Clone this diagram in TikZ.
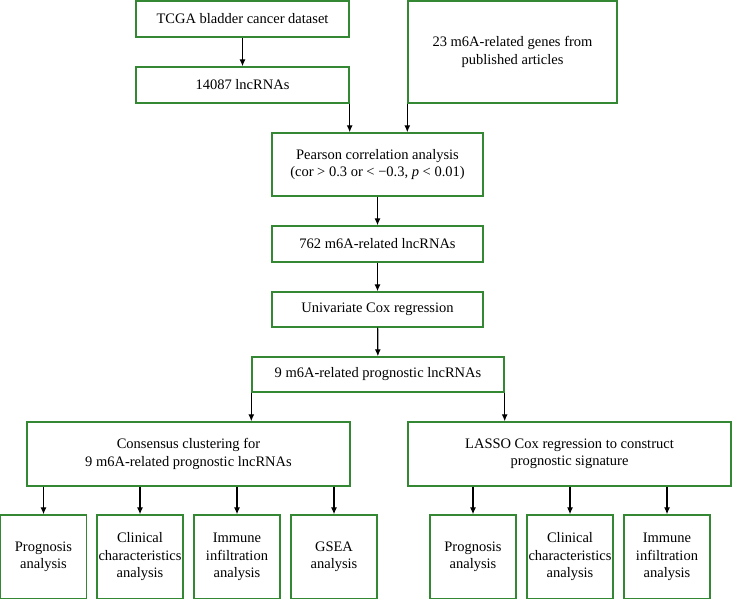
\documentclass[tikz,border=0pt]{standalone}
\usepackage{fontspec}
\setmainfont{Liberation Serif}
\definecolor{boxgreen}{RGB}{52,136,52}
\usetikzlibrary{arrows.meta,positioning}

\begin{document}
\begin{tikzpicture}[x=1pt,y=-1pt,
    every node/.style={draw=boxgreen,line width=1.4pt,fill=white,align=center,inner sep=0pt,
      font=\fontsize{14.5}{17.5}\selectfont},
    topbox/.style={minimum width=213pt,minimum height=36pt},
    midbox/.style={minimum width=211pt,minimum height=36pt},
    widebox/.style={minimum width=323pt,minimum height=64pt},
    endbox/.style={minimum width=86pt,minimum height=84pt},
    arr/.style={-{Latex[length=7pt,width=6pt]},line width=1.2pt}
    ]
    \useasboundingbox (0,0) rectangle (732,598);

    \node (tcga) [topbox] at (242.5,19) {TCGA bladder cancer dataset};
    \node (lnc) [topbox] at (242.5,85) {14087 lncRNAs};
    \node (genes) [minimum width=209pt,minimum height=102pt] at (512.5,52) {23 m6A-related genes from\\published articles};
    \node (pearson) [midbox,minimum height=63pt] at (377.5,164.5) {Pearson correlation analysis\\(cor > 0.3 or < −0.3, \textit{p} < 0.01)};
    \node (related) [midbox] at (377.5,244) {762 m6A-related lncRNAs};
    \node (unicox) [midbox,minimum height=35pt] at (377.5,309.5) {Univariate Cox regression};
    \node (prog) [minimum width=252pt,minimum height=35pt] at (378,374.5) {9 m6A-related prognostic lncRNAs};
    \node (cons) [widebox] at (188.5,454) {Consensus clustering for\\9 m6A-related prognostic lncRNAs};
    \node (lasso) [widebox] at (569.5,454) {LASSO Cox regression to construct\\prognostic signature};

    % bottom row
    \node (c1) [endbox] at (43.5,557) {Prognosis\\analysis};
    \node (c2) [endbox] at (140,557) {Clinical\\characteristics\\analysis};
    \node (c3) [endbox] at (237,557) {Immune\\infiltration\\analysis};
    \node (c4) [endbox] at (334,557) {GSEA\\analysis};
    \node (l1) [endbox] at (473,557) {Prognosis\\analysis};
    \node (l2) [endbox] at (570,557) {Clinical\\characteristics\\analysis};
    \node (l3) [endbox] at (667,557) {Immune\\infiltration\\analysis};

    % the arrows
    \draw[arr] (tcga) -- (lnc);
    \draw[arr] (lnc.south east) -- (lnc.south east |- pearson.north);
    \draw[arr] (genes.south west) -- (genes.south west |- pearson.north);
    \draw[arr] (pearson) -- (related);
    \draw[arr] (related) -- (unicox);
    \draw[arr] (unicox) -- (prog);
    \draw[arr] (prog.south west) -- (prog.south west |- cons.north);
    \draw[arr] (prog.south east) -- (prog.south east |- lasso.north);
    \foreach \n in {c1,c2,c3,c4}
      \draw[arr] (\n.north |- cons.south) -- (\n);
    \foreach \n in {l1,l2,l3}
      \draw[arr] (\n.north |- lasso.south) -- (\n);
\end{tikzpicture}
\end{document}
